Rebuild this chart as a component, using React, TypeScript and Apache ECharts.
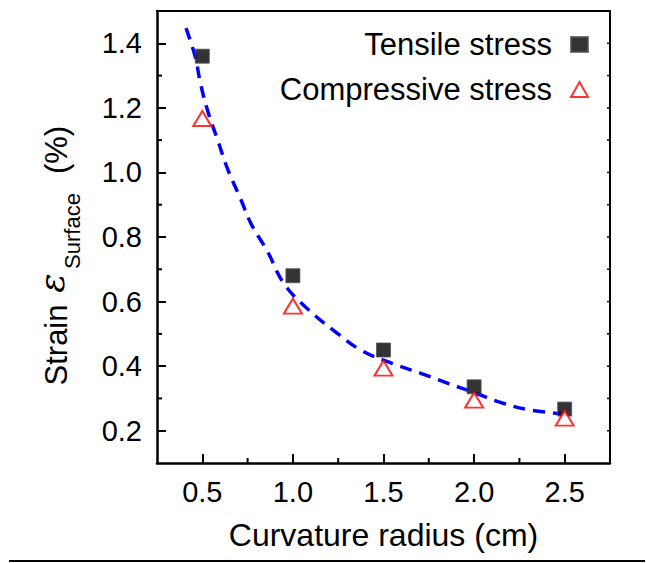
import React, { useEffect, useRef } from "react";
import * as echarts from "echarts";

// ---- data ----
const radius = [0.5, 1.0, 1.5, 2.0, 2.5];
const tensile = [1.36, 0.68, 0.45, 0.336, 0.267];
const compressive = [1.167, 0.586, 0.394, 0.295, 0.239];

const fitX = [0.41, 0.46, 0.49, 0.53, 0.585, 0.64, 0.71, 0.77, 0.86, 0.95, 1.08, 1.24, 1.38, 1.55, 1.71, 1.86, 2.0, 2.16, 2.31, 2.48];
const fitY = [1.447, 1.36, 1.276, 1.19, 1.1, 1.01, 0.92, 0.84, 0.755, 0.656, 0.578, 0.504, 0.448, 0.408, 0.377, 0.346, 0.318, 0.285, 0.264, 0.253];

const xMajor = [0.5, 1.0, 1.5, 2.0, 2.5];
const xMinor = [0.75, 1.25, 1.75, 2.25];
const yMajor = [0.2, 0.4, 0.6, 0.8, 1.0, 1.2, 1.4];
const yMinor = [0.3, 0.5, 0.7, 0.9, 1.1, 1.3];
const yRightTicks = [0.2, 0.3, 0.4, 0.5, 0.6, 0.7, 0.8, 0.9, 1.0, 1.1, 1.2, 1.3, 1.4];

const xRange = [0.25, 2.75];
const yRange = [0.1, 1.5];

const FONT = "'Liberation Sans', Arial, sans-serif";

// custom series drawing inward ticks through the axis scales
const tickSeries = (name: string, values: number[], edge: string, len: number, width: number) => ({
  name,
  type: "custom",
  xAxisIndex: 0,
  yAxisIndex: 0,
  clip: false,
  z: 10,
  data: values.map((v) =>
    edge === "bottom" ? [v, yRange[0]] : edge === "left" ? [xRange[0], v] : [xRange[1], v]
  ),
  renderItem: (_params: any, api: any) => {
    const p = api.coord([api.value(0), api.value(1)]);
    let x2 = p[0];
    let y2 = p[1];
    if (edge === "bottom") y2 = p[1] - len;
    else if (edge === "left") x2 = p[0] + len;
    else x2 = p[0] - len;
    return { type: "line", shape: { x1: p[0], y1: p[1], x2, y2 }, style: { stroke: "#000", lineWidth: width } };
  },
});

export default function App() {
  const ref = useRef<HTMLDivElement>(null);
  useEffect(() => {
    if (!ref.current) return;
    const chart = echarts.init(ref.current, null, { renderer: "svg" });
    const option: any = {
      animation: false,
      backgroundColor: "#fff",
      textStyle: { fontFamily: FONT },
      grid: { left: 157, top: 11, right: 36, bottom: 100 },
      legend: {
        data: ["Tensile stress", "Compressive stress"],
        orient: "vertical",
        right: 57,
        top: 29,
        padding: 0,
        itemWidth: 17,
        itemHeight: 15,
        itemGap: 14,
        align: "right",
        selectedMode: false,
        textStyle: { fontSize: 31, lineHeight: 31, color: "#000", fontFamily: FONT, padding: [0, 14, 0, 0] },
      },
      xAxis: [
        {
          type: "value",
          position: "bottom",
          min: xRange[0],
          max: xRange[1],
          axisLine: { show: true, onZero: false, lineStyle: { color: "#000", width: 2.5 } },
          axisTick: { show: true, inside: true, length: 9, lineStyle: { color: "#000", width: 2 }, customValues: xMajor },
          axisLabel: {
            show: true,
            customValues: xMajor,
            margin: 14,
            fontSize: 29,
            color: "#000",
            fontFamily: FONT,
            formatter: (v: number) => v.toFixed(1),
          },
          splitLine: { show: false },
          name: "Curvature radius (cm)",
          nameLocation: "middle",
          nameGap: 56,
          nameTextStyle: { fontSize: 32, color: "#000", fontFamily: FONT },
        },
        {
          type: "value",
          position: "top",
          min: xRange[0],
          max: xRange[1],
          axisLine: { show: true, onZero: false, lineStyle: { color: "#000", width: 2 } },
          axisTick: { show: false },
          axisLabel: { show: false },
          splitLine: { show: false },
        },
      ],
      yAxis: [
        {
          type: "value",
          position: "left",
          min: yRange[0],
          max: yRange[1],
          axisLine: { show: true, onZero: false, lineStyle: { color: "#000", width: 2.5 } },
          axisTick: { show: true, inside: true, length: 9, lineStyle: { color: "#000", width: 2 }, customValues: yMajor },
          axisLabel: {
            show: true,
            customValues: yMajor,
            margin: 15,
            fontSize: 29,
            color: "#000",
            fontFamily: FONT,
            formatter: (v: number) => v.toFixed(1),
          },
          splitLine: { show: false },
        },
        {
          type: "value",
          position: "right",
          min: yRange[0],
          max: yRange[1],
          axisLine: { show: true, onZero: false, lineStyle: { color: "#000", width: 2 } },
          axisTick: { show: false },
          axisLabel: { show: false },
          splitLine: { show: false },
        },
      ],
      series: [
        {
          name: "Fit",
          type: "line",
          xAxisIndex: 0,
          yAxisIndex: 0,
          data: fitX.map((x, i) => [x, fitY[i]]),
          smooth: 0.4,
          symbol: "none",
          lineStyle: { color: "#0000ff", width: 3.5, type: [12, 8] },
          z: 2,
        },
        {
          name: "Tensile stress",
          type: "scatter",
          xAxisIndex: 0,
          yAxisIndex: 0,
          data: radius.map((x, i) => [x, tensile[i]]),
          symbol: "rect",
          symbolSize: 14,
          itemStyle: { color: "#000", borderColor: "#555", borderWidth: 1 },
          z: 3,
        },
        {
          name: "Compressive stress",
          type: "scatter",
          xAxisIndex: 0,
          yAxisIndex: 0,
          data: radius.map((x, i) => [x, compressive[i]]),
          symbol: "triangle",
          symbolSize: [18, 15],
          itemStyle: { color: "#fff", borderColor: "#ff0000", borderWidth: 2 },
          z: 4,
        },
        tickSeries("xMinorTicks", xMinor, "bottom", 5, 2),
        tickSeries("yMinorTicks", yMinor, "left", 5, 2),
        tickSeries("rightTicks", yRightTicks, "right", 3, 1.5),
      ],
      graphic: [
        {
          type: "text",
          x: 56,
          y: 345,
          rotation: Math.PI / 2,
          style: { text: "Strain", fontSize: 31, fontFamily: FONT, fill: "#000", align: "center", verticalAlign: "middle" },
        },
        {
          type: "text",
          x: 51,
          y: 283,
          rotation: Math.PI / 2,
          style: {
            text: "ε",
            fontSize: 36,
            fontFamily: "'DejaVu Serif', serif",
            fontStyle: "italic",
            fill: "#000",
            align: "center",
            verticalAlign: "middle",
          },
        },
        {
          type: "text",
          x: 72,
          y: 231,
          rotation: Math.PI / 2,
          style: { text: "Surface", fontSize: 22, fontFamily: FONT, fill: "#000", align: "center", verticalAlign: "middle" },
        },
        {
          type: "text",
          x: 56,
          y: 150,
          rotation: Math.PI / 2,
          style: { text: "(%)", fontSize: 31, fontFamily: FONT, fill: "#000", align: "center", verticalAlign: "middle" },
        },
        {
          type: "line",
          shape: { x1: 9, y1: 561, x2: 645, y2: 561 },
          style: { stroke: "#000", lineWidth: 2 },
        },
      ],
    };
    chart.setOption(option);
    return () => chart.dispose();
  }, []);
  return (
    <div
      ref={ref}
      style={{ position: "fixed", left: 0, top: 0, width: 646, height: 563, background: "#fff" }}
    />
  );
}
